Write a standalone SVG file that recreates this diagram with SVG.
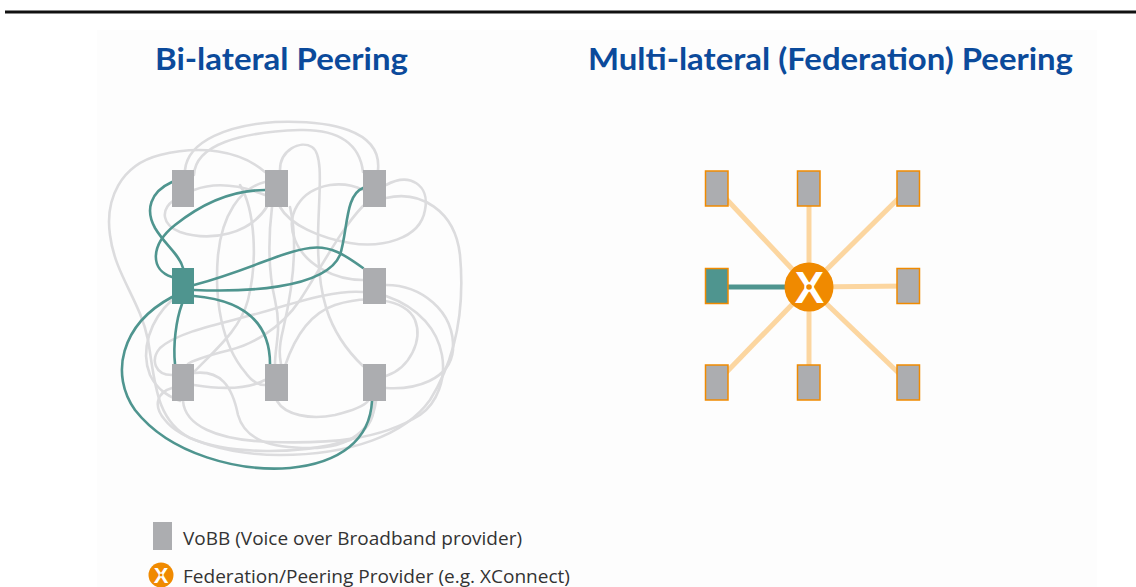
<svg xmlns="http://www.w3.org/2000/svg" width="1136" height="587" viewBox="0 0 1136 587">
<style>
.title{font-family:Lato,"Open Sans","DejaVu Sans",sans-serif;font-weight:bold;font-size:31px;fill:#0b4a9b}
.leg{font-family:"Open Sans","DejaVu Sans",sans-serif;font-size:18.5px;fill:#333}
.gray{fill:none;stroke:#dcdcde;stroke-width:2.6;stroke-linecap:round}
.teal{fill:none;stroke:#4f958f;stroke-width:2.6;stroke-linecap:round}
.sq{fill:#acadb0}
.sqt{fill:#4f958f}
.osq{fill:#acadb0;stroke:#f08a00;stroke-width:1.5}
.osqt{fill:#4f958f;stroke:#f08a00;stroke-width:1.5}
.spoke{stroke:#fcd6a0;stroke-width:5}
.xtxt{font-family:"Liberation Sans",Arial,sans-serif;font-weight:bold;fill:#fff;text-anchor:middle}
</style>
<rect x="0" y="0" width="1136" height="587" fill="#ffffff"/>
<rect x="97" y="30" width="1000" height="557" fill="#fdfdfd"/>
<rect x="5" y="10.5" width="1131" height="3" fill="#111"/>

<text class="title" x="155" y="70" textLength="253" lengthAdjust="spacingAndGlyphs">Bi-lateral Peering</text>
<text class="title" x="588" y="70" textLength="485" lengthAdjust="spacingAndGlyphs">Multi-lateral (Federation) Peering</text>

<g id="bilateral-connectors">
<path class="gray" d="M185,170 C188,140 230,125 275,122 C330,120 382,130 378,170"/>
<path class="gray" d="M194,175 C195,145 240,132 300,130 C340,129 360,145 363,172"/>
<path class="gray" d="M265,172 C240,150 200,145 160,155 C120,165 105,200 110,235 C115,275 140,300 148,340 C155,380 155,420 190,438 C230,455 300,455 350,440 C370,430 375,415 374,401"/>
<path class="gray" d="M386,198 C420,190 455,210 460,255 C465,310 455,360 430,400 C405,435 350,455 280,455 C230,455 180,440 165,420 C152,405 158,392 172,388"/>
<path class="gray" d="M386,185 C410,172 430,185 425,210 C420,240 380,248 350,243 C320,238 290,225 280,207"/>
<path class="gray" d="M386,285 C420,285 455,310 453,350 C450,380 415,390 386,388"/>
<path class="gray" d="M386,376 C410,368 423,340 415,320 C405,298 365,295 335,305 C305,315 292,345 285,366"/>
<path class="gray" d="M277,401 C285,415 310,420 335,415 C355,410 365,405 368,401"/>
<path class="gray" d="M280,170 C280,150 300,140 312,147 C325,155 318,200 318,240 C318,290 325,330 363,366"/>
<path class="gray" d="M265,182 C240,188 222,215 218,255 C214,300 222,345 245,372 C252,382 258,385 265,385"/>
<path class="gray" d="M240,185 C255,210 258,260 248,300 C240,330 215,350 194,372"/>
<path class="gray" d="M174,200 C160,210 162,225 180,232 C210,242 250,235 268,205"/>
<path class="gray" d="M194,190 C215,182 240,185 265,195"/>
<path class="gray" d="M172,375 C155,375 150,360 160,348 C180,330 230,322 270,310 C310,298 340,290 363,292"/>
<path class="gray" d="M194,373 C220,370 232,385 238,415 C245,440 270,448 310,448 C350,448 372,430 376,401"/>
<path class="gray" d="M183,401 C185,425 215,440 270,442 C330,444 380,440 420,415 C455,390 455,320 386,296"/>
<path class="gray" d="M194,385 C225,390 250,388 265,380"/>
<path class="gray" d="M272,207 C268,240 268,270 275,300 C282,330 275,345 275,364"/>
<path class="gray" d="M290,207 C300,250 290,300 283,330 C278,350 280,358 281,364"/>
<path class="gray" d="M363,280 C335,280 305,265 295,240 C285,215 300,190 330,185 C345,183 355,186 363,190"/>
<path class="gray" d="M363,206 C340,230 320,270 300,300 C280,330 250,345 230,350 C205,356 190,362 188,364"/>
<path class="gray" d="M172,300 C150,320 140,350 150,375 C160,395 175,398 180,401"/>

<path class="teal" d="M172,182 C150,192 145,210 155,228 C165,245 180,255 183,268"/>
<path class="teal" d="M265,190 C230,190 200,205 175,225 C150,245 150,270 172,277"/>
<path class="teal" d="M363,188 C345,195 348,230 340,255 C325,290 240,292 194,290"/>
<path class="teal" d="M363,268 C345,255 330,245 310,248 C280,252 250,270 194,285"/>
<path class="teal" d="M194,296 C240,300 270,320 270,364"/>
<path class="teal" d="M182,304 C176,320 173,345 175,364"/>
<path class="teal" d="M172,297 C120,325 110,375 135,410 C170,455 240,472 290,468 C340,463 370,440 372,401"/>
</g>

<g id="bi-TL"><rect class="sq" x="172" y="170" width="22" height="37"/></g>
<g id="bi-TM"><rect class="sq" x="265" y="170" width="23" height="37"/></g>
<g id="bi-TR"><rect class="sq" x="363" y="170" width="23" height="37"/></g>
<g id="bi-ML"><rect class="sqt" x="172" y="268" width="22" height="36"/></g>
<g id="bi-MR"><rect class="sq" x="363" y="268" width="23" height="36"/></g>
<g id="bi-BL"><rect class="sq" x="172" y="364" width="22" height="37"/></g>
<g id="bi-BM"><rect class="sq" x="265" y="364" width="23" height="37"/></g>
<g id="bi-BR"><rect class="sq" x="363" y="364" width="23" height="37"/></g>

<g id="multilateral-connectors">
<line class="spoke" x1="809" y1="287" x2="717" y2="189"/>
<line class="spoke" x1="809" y1="287" x2="809" y2="189"/>
<line class="spoke" x1="809" y1="287" x2="908" y2="189"/>
<line class="spoke" x1="809" y1="287" x2="908" y2="286"/>
<line class="spoke" x1="809" y1="287" x2="717" y2="382"/>
<line class="spoke" x1="809" y1="287" x2="809" y2="382"/>
<line class="spoke" x1="809" y1="287" x2="908" y2="382"/>
<line x1="728" y1="287" x2="790" y2="287" stroke="#4f958f" stroke-width="5"/>
</g>

<g id="ml-TL"><rect class="osq" x="705.5" y="171" width="22.5" height="35"/></g>
<g id="ml-TM"><rect class="osq" x="797.5" y="171" width="22.5" height="35"/></g>
<g id="ml-TR"><rect class="osq" x="897" y="171" width="22.5" height="35"/></g>
<g id="ml-ML"><rect class="osqt" x="705.5" y="268.5" width="22.5" height="35"/></g>
<g id="ml-MR"><rect class="osq" x="897" y="268.5" width="22.5" height="35"/></g>
<g id="ml-BL"><rect class="osq" x="705.5" y="365" width="22.5" height="35"/></g>
<g id="ml-BM"><rect class="osq" x="797.5" y="365" width="22.5" height="35"/></g>
<g id="ml-BR"><rect class="osq" x="897" y="365" width="22.5" height="35"/></g>

<g id="ml-hub">
<circle cx="809" cy="287" r="24.5" fill="#f08a00"/>
<text class="xtxt" x="809.5" y="303" font-size="44">X</text>
<circle cx="809" cy="287" r="3.8" fill="#f08a00" stroke="#fff" stroke-width="2"/>
</g>

<g id="legend-vobb">
<rect class="sq" x="153" y="522" width="19" height="28"/>
<text class="leg" x="183" y="545" textLength="339" lengthAdjust="spacingAndGlyphs">VoBB (Voice over Broadband provider)</text>
</g>
<g id="legend-federation">
<circle cx="161" cy="575" r="12.5" fill="#f08a00"/>
<text class="xtxt" x="161" y="583" font-size="22">X</text>
<circle cx="161" cy="575" r="2" fill="#f08a00" stroke="#fff" stroke-width="1"/>
<text class="leg" x="183" y="583" textLength="387" lengthAdjust="spacingAndGlyphs">Federation/Peering Provider (e.g. XConnect)</text>
</g>
</svg>
